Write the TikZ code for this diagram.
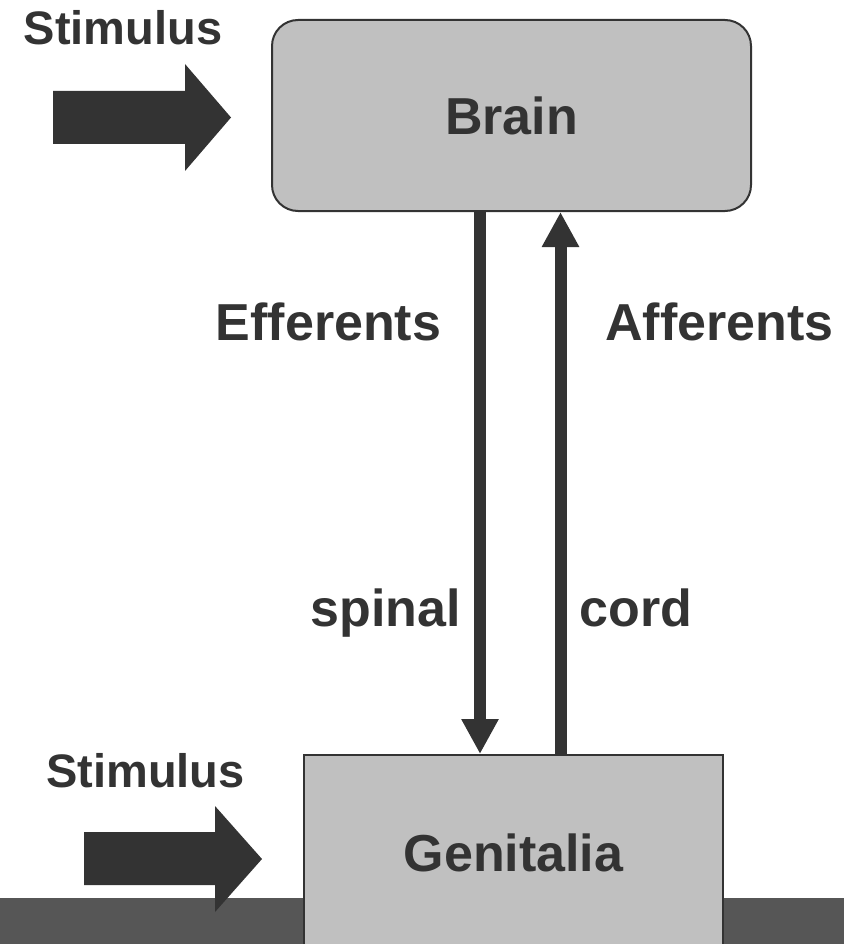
\documentclass[tikz,border=0pt]{standalone}
\usepackage{fontspec}
\setmainfont{Liberation Sans}
\usetikzlibrary{arrows.meta}
\definecolor{ink}{HTML}{333333}
\definecolor{boxfill}{HTML}{C0C0C0}
\definecolor{band}{HTML}{565656}
\tikzset{
  lbl/.style={font=\fontsize{52}{60}\selectfont\bfseries, text=ink, anchor=base, inner sep=0pt},
  stim/.style={font=\fontsize{47}{56}\selectfont\bfseries, text=ink, anchor=base, inner sep=0pt},
  organ/.style={draw=ink, line width=2pt, fill=boxfill, inner sep=0pt,
    font=\fontsize{52}{60}\selectfont\bfseries, text=ink},
  nerve/.style={draw=ink, line width=12pt, -{Triangle[length=35pt,width=35pt]}},
  bigarrow/.style={fill=ink, draw=none}
}
\begin{document}
\begin{tikzpicture}[x=1pt,y=-1pt]
\useasboundingbox (0,0) rectangle (844,944);
\clip (0,0) rectangle (844,944);
% bottom band
\fill[band] (0,898) rectangle (844,950);
% stimulus block arrows
\path[bigarrow] (53,91) -- (185,91) -- (185,64) -- (231,117.5) -- (185,171) -- (185,144) -- (53,144) -- cycle;
\path[bigarrow] (84,832) -- (215,832) -- (215,806) -- (262,859) -- (215,912) -- (215,885) -- (84,885) -- cycle;
% boxes
\node[organ, rounded corners=26pt, minimum width=479pt, minimum height=191pt] (brain) at (511.5,115.5) {Brain};
\node[organ, minimum width=419pt, minimum height=196pt] (gen) at (513.5,853) {Genitalia};
% connector columns
\coordinate (dcol) at (480,0);
\coordinate (ucol) at (560.5,0);
\draw[nerve] (brain.south -| dcol) -- (gen.north -| dcol);
\draw[nerve] (gen.north -| ucol) -- (brain.south -| ucol);
% labels
\node[stim] (s1) at (123,45) {Stimulus};
\node[stim] (s2) at (145.5,787) {Stimulus};
\node[lbl] (eff) at (328.5,340) {Efferents};
\node[lbl] (aff) at (719.5,340) {Afferents};
\node[lbl] (sp) at (385.5,626) {spinal};
\node[lbl] (cd) at (636,626) {cord};
\end{tikzpicture}
\end{document}
